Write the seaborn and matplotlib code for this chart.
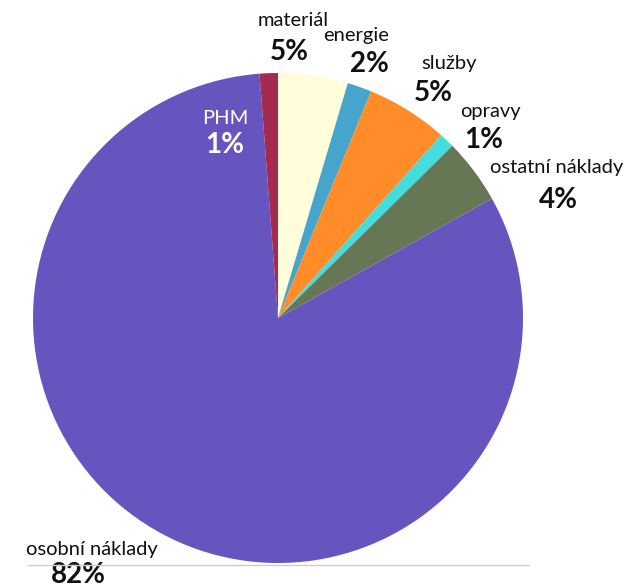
import matplotlib
matplotlib.use("Agg")
import matplotlib.pyplot as plt
import seaborn as sns

categories = ["materiál", "energie", "služby", "opravy", "ostatní náklady", "osobní náklady", "PHM"]
values = [4.6, 1.6, 5.4, 1.0, 4.3, 81.9, 1.2]
colors = ["#FFFDDA", "#45A5CC", "#FF8C28", "#44DDDD", "#667755", "#6655BE", "#A52A50"]

# label positions (pixel centres of name / percent text) and text colours
name_pos = [(293, 20), (356, 36), (449, 64), (490, 112), (557, 168), (92, 549), (225, 118)]
pct_pos = [(289, 52), (369, 64), (433, 93), (484, 140), (558, 200), (78, 575), (225, 145)]
text_colors = ["#111111"] * 6 + ["white"]

sns.set_theme(style="white")
plt.rcParams["font.family"] = ["Lato", "DejaVu Sans"]

W, H, DPI = 630, 588, 100
CX, CY, R = 278, 318, 245

fig = plt.figure(figsize=(W / DPI, H / DPI), dpi=DPI)
ax = fig.add_axes([0, 0, 1, 1])
ax.pie(values, colors=colors, startangle=90, counterclock=False, radius=1.0,
       wedgeprops=dict(linewidth=0))
ax.set_aspect("auto")
ax.set_xlim((0 - CX) / R, (W - CX) / R)
ax.set_ylim((CY - H) / R, (CY - 0) / R)
ax.axis("off")


def to_data(p):
    return (p[0] - CX) / R, (CY - p[1]) / R


for cat, v, npos, ppos, tc in zip(categories, values, name_pos, pct_pos, text_colors):
    x, y = to_data(npos)
    ax.text(x, y, cat, ha="center", va="center", fontsize=14.5, color=tc)
    x, y = to_data(ppos)
    ax.text(x, y, f"{v:.0f}%", ha="center", va="center", fontsize=20,
            fontweight="bold", color=tc)

# thin grey rule under the chart
fig.add_artist(plt.Line2D([28 / W, 529 / W], [1 - 565 / H, 1 - 565 / H],
                          color="#cccccc", linewidth=1.0))

fig.savefig("out.png", dpi=DPI)
